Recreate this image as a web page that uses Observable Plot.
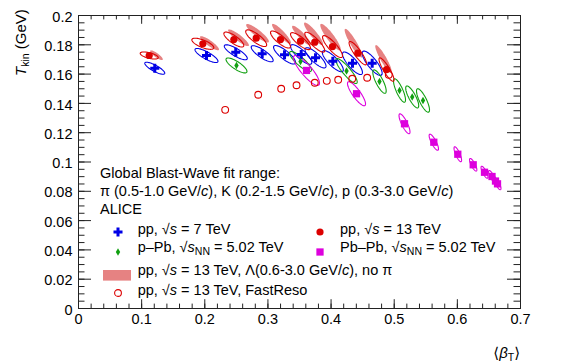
<!DOCTYPE html>
<html><head><meta charset="utf-8">
<script src="https://cdn.jsdelivr.net/npm/d3@7"></script>
<script src="https://cdn.jsdelivr.net/npm/@observablehq/plot@0.6"></script>
<style>
body{margin:0;background:#fff;}
#wrap{position:relative;width:581px;height:364px;font-family:"Liberation Sans",Arial,Helvetica,sans-serif;color:#000;overflow:hidden;}
#wrap svg.plot{position:absolute;left:0;top:0;}
.t{position:absolute;white-space:nowrap;font-size:14.5px;line-height:1;}
.t sub{font-size:10.5px;vertical-align:-3px;line-height:0;}
.sym{position:absolute;}
</style></head><body><div id="wrap"></div>
<script>
// ---- data ----
const xTicks = [0, 0.1, 0.2, 0.3, 0.4, 0.5, 0.6, 0.7];
const xTickLabels = ["0", "0.1", "0.2", "0.3", "0.4", "0.5", "0.6", "0.7"];
const yTicks = [0, 0.02, 0.04, 0.06, 0.08, 0.1, 0.12, 0.14, 0.16, 0.18, 0.2];
const yTickLabels = ["0", "0.02", "0.04", "0.06", "0.08", "0.1", "0.12", "0.14", "0.16", "0.18", "0.2"];

// pp, sqrt(s) = 7 TeV
const pp7_beta = [0.1208, 0.2027, 0.2491, 0.2909, 0.3263, 0.3527, 0.3754, 0.4028, 0.4339, 0.4651];
const pp7_T    = [0.1640, 0.1727, 0.1749, 0.1739, 0.1732, 0.1734, 0.1711, 0.1688, 0.1674, 0.1674];
const pp7_sb   = [0.0158, 0.0182, 0.0182, 0.0174, 0.0174, 0.0168, 0.0166, 0.0166, 0.0158, 0.0158];
const pp7_sT   = [0.0041, 0.0048, 0.0051, 0.0055, 0.0063, 0.0067, 0.0069, 0.0072, 0.0077, 0.0083];
const pp7_rho  = [-0.82, -0.82, -0.82, -0.82, -0.82, -0.82, -0.82, -0.82, -0.82, -0.82];

// pp, sqrt(s) = 13 TeV
const pp13_beta = [0.1120, 0.1969, 0.2460, 0.2814, 0.3199, 0.3516, 0.3742, 0.4023, 0.4423, 0.4878];
const pp13_T    = [0.1727, 0.1807, 0.1836, 0.1845, 0.1836, 0.1825, 0.1818, 0.1788, 0.1743, 0.1631];
const pp13_sb   = [0.0143, 0.0174, 0.0158, 0.0166, 0.0158, 0.0158, 0.0158, 0.0158, 0.0138, 0.0119];
const pp13_sT   = [0.0024, 0.0038, 0.0051, 0.0057, 0.0058, 0.0058, 0.0068, 0.0075, 0.0080, 0.0080];
const pp13_rho  = [-0.6, -0.7, -0.8, -0.8, -0.82, -0.82, -0.85, -0.85, -0.88, -0.88];

// p-Pb, sqrt(sNN) = 5.02 TeV
const pPb_beta = [0.2502, 0.3516, 0.4245, 0.4767, 0.5084, 0.5285, 0.5456];
const pPb_T    = [0.1659, 0.1686, 0.1621, 0.1549, 0.1488, 0.1444, 0.1420];
const pPb_sb   = [0.0166, 0.0174, 0.0169, 0.0106, 0.0095, 0.0103, 0.0103];
const pPb_sT   = [0.0051, 0.0068, 0.0085, 0.0080, 0.0080, 0.0075, 0.0080];
const pPb_rho  = [-0.8, -0.85, -0.88, -0.8, -0.8, -0.8, -0.8];

// Pb-Pb, sqrt(sNN) = 5.02 TeV
const PbPb_beta = [0.3611, 0.4403, 0.5163, 0.5627, 0.6007, 0.6251, 0.6430, 0.6549, 0.6604, 0.6636];
const PbPb_T    = [0.1625, 0.1466, 0.1261, 0.1135, 0.1053, 0.0981, 0.0930, 0.0901, 0.0870, 0.0851];
const PbPb_sb   = [0.0206, 0.0143, 0.0087, 0.0074, 0.0060, 0.0058, 0.0055, 0.0055, 0.0055, 0.0055];
const PbPb_sT   = [0.0102, 0.0082, 0.0068, 0.0055, 0.0051, 0.0043, 0.0041, 0.0041, 0.0040, 0.0040];
const PbPb_rho  = [-0.85, -0.85, -0.82, -0.82, -0.8, -0.8, -0.8, -0.8, -0.8, -0.8];

// pp, sqrt(s) = 13 TeV, Lambda (0.6-3.0 GeV/c), no pi
const lam_beta = [0.1235, 0.2075, 0.2534, 0.2835, 0.3215, 0.3532, 0.3722, 0.3991, 0.4355, 0.4830];
const lam_T    = [0.1729, 0.1811, 0.1848, 0.1879, 0.1875, 0.1863, 0.1875, 0.1852, 0.1811, 0.1704];
const lam_sb   = [0.0100, 0.0150, 0.0165, 0.0180, 0.0150, 0.0150, 0.0150, 0.0162, 0.0140, 0.0130];
const lam_sT   = [0.0033, 0.0048, 0.0057, 0.0063, 0.0068, 0.0067, 0.0077, 0.0091, 0.0098, 0.0094];
const lam_rho  = [-0.85, -0.88, -0.89, -0.89, -0.9, -0.9, -0.9, -0.9, -0.91, -0.91];

// pp, sqrt(s) = 13 TeV, FastReso
const fr_beta = [0.2323, 0.2846, 0.3210, 0.3453, 0.3742, 0.3932, 0.4113, 0.4335, 0.4572, 0.4914];
const fr_T    = [0.1356, 0.1459, 0.1500, 0.1524, 0.1541, 0.1554, 0.1561, 0.1568, 0.1575, 0.1595];

// ---- colours ----
const cBlue = "#0000e6", cRed = "#dc0000", cGreen = "#10a010", cMag = "#dd00dd", cPink = "#e68282";

// ---- helpers ----
function ellipses(name, bx, by, sb, sT, rho) {
  const out = [];
  bx.forEach((cx, i) => {
    const n = 72, r = rho[i], c = Math.sqrt(1 - r * r);
    for (let k = 0; k < n; k++) {
      const t = 2 * Math.PI * k / n;
      out.push({id: name + i, x: cx + sb[i] * Math.cos(t), y: by[i] + sT[i] * (r * Math.cos(t) + c * Math.sin(t))});
    }
  });
  return out;
}
const pts = (bx, by) => bx.map((x, i) => ({x, y: by[i]}));

const mL = 78, mR = 61, mT = 15, mB = 56, W = 581, H = 364;
const fW = W - mL - mR, fH = H - mT - mB;
const xMinor = d3.range(0, 0.7001, 0.02).map(v => +v.toFixed(3));
const yMinor = d3.range(0, 0.2001, 0.005).map(v => +v.toFixed(4));
const axc = "#222";

const plot = Plot.plot({
  width: W, height: H,
  marginLeft: mL, marginRight: mR, marginTop: mT, marginBottom: mB,
  x: {domain: [0, 0.7]},
  y: {domain: [0, 0.2]},
  style: {fontFamily: "'Liberation Sans', Arial, Helvetica, sans-serif", fontSize: "14.5px", background: "white", color: "#000"},
  marks: [
    Plot.line(ellipses("lam", lam_beta, lam_T, lam_sb, lam_sT, lam_rho), {x: "x", y: "y", z: "id", curve: "linear-closed", fill: cPink, stroke: "none"}),
    Plot.line(ellipses("pp7", pp7_beta, pp7_T, pp7_sb, pp7_sT, pp7_rho), {x: "x", y: "y", z: "id", curve: "linear-closed", stroke: cBlue, strokeWidth: 1.1}),
    Plot.line(ellipses("pPb", pPb_beta, pPb_T, pPb_sb, pPb_sT, pPb_rho), {x: "x", y: "y", z: "id", curve: "linear-closed", stroke: cGreen, strokeWidth: 1.1}),
    Plot.line(ellipses("PbPb", PbPb_beta, PbPb_T, PbPb_sb, PbPb_sT, PbPb_rho), {x: "x", y: "y", z: "id", curve: "linear-closed", stroke: cMag, strokeWidth: 1.1}),
    Plot.line(ellipses("pp13", pp13_beta, pp13_T, pp13_sb, pp13_sT, pp13_rho), {x: "x", y: "y", z: "id", curve: "linear-closed", stroke: cRed, strokeWidth: 1.1}),
    Plot.dot(pts(pp7_beta, pp7_T), {x: "x", y: "y", symbol: "cross", r: 3.8, fill: cBlue}),
    Plot.dot(pts(pPb_beta, pPb_T), {x: "x", y: "y", symbol: "diamond", r: 2.3, fill: cGreen}),
    Plot.dot(pts(PbPb_beta, PbPb_T), {x: "x", y: "y", symbol: "square", r: 4.1, fill: cMag}),
    Plot.dot(pts(pp13_beta, pp13_T), {x: "x", y: "y", symbol: "circle", r: 3.6, fill: cRed}),
    Plot.dot(pts(fr_beta, fr_T), {x: "x", y: "y", symbol: "circle", r: 3.4, fill: "none", stroke: cRed, strokeWidth: 1.1}),
    // frame and inward ticks (ROOT style)
    Plot.frame({stroke: axc, strokeWidth: 1}),
    Plot.ruleX(xTicks, {x: d => d, insetTop: fH - 8.8, stroke: axc}),
    Plot.ruleX(xTicks, {x: d => d, insetBottom: fH - 8.8, stroke: axc}),
    Plot.ruleX(xMinor, {x: d => d, insetTop: fH - 4.4, stroke: axc}),
    Plot.ruleX(xMinor, {x: d => d, insetBottom: fH - 4.4, stroke: axc}),
    Plot.ruleY(yTicks, {y: d => d, insetRight: fW - 13, stroke: axc}),
    Plot.ruleY(yTicks, {y: d => d, insetLeft: fW - 13, stroke: axc}),
    Plot.ruleY(yMinor, {y: d => d, insetRight: fW - 6.5, stroke: axc}),
    Plot.ruleY(yMinor, {y: d => d, insetLeft: fW - 6.5, stroke: axc}),
    Plot.axisX({ticks: xTicks, tickFormat: d => xTickLabels[xTicks.indexOf(d)], tickSize: 0, tickPadding: 5, label: null}),
    Plot.axisY({ticks: yTicks, tickFormat: d => yTickLabels[yTicks.indexOf(d)], tickSize: 0, tickPadding: 6, dy: 1.5, label: null})
  ]
});
plot.classList.add("plot");
const wrap = document.getElementById("wrap");
wrap.appendChild(plot);

// ---- titles and legend (text) ----
function addText(html, left, top, extra) {
  const d = document.createElement("div");
  d.className = "t";
  d.innerHTML = html;
  d.style.left = left + "px";
  d.style.top = top + "px";
  if (extra) Object.assign(d.style, extra);
  wrap.appendChild(d);
  return d;
}
function addSym(svg, left, top, w, h) {
  const d = document.createElement("div");
  d.className = "sym";
  d.style.left = left + "px"; d.style.top = top + "px";
  d.innerHTML = `<svg width="${w}" height="${h}" viewBox="0 0 ${w} ${h}">${svg}</svg>`;
  wrap.appendChild(d);
}

// y title (rotated)
addText('<i>T</i><sub style="font-size:10.5px;vertical-align:-3px">kin</sub> (GeV)', 13, 76, {transformOrigin: "0 0", transform: "rotate(-90deg)", fontSize: "15px"});
// x title
const xt = addText('<span style="font-family:\'DejaVu Sans\'">⟨</span><i>β</i><sub>T</sub><span style="font-family:\'DejaVu Sans\'">⟩</span>', 0, 345, {fontSize: "15px"});
xt.style.left = (520 - xt.getBoundingClientRect().width) + "px";

addText("Global Blast-Wave fit range:", 100, 166);
addText("π (0.5-1.0 GeV/<i>c</i>), K (0.2-1.5 GeV/<i>c</i>), p (0.3-3.0 GeV/<i>c</i>)", 100, 184.4);
addText("ALICE", 100, 202);
addText("pp, √<i>s</i> = 7 TeV", 137.7, 221.7);
addText("pp, √<i>s</i> = 13 TeV", 340, 221.7);
addText("p–Pb, √<i>s</i><sub>NN</sub> = 5.02 TeV", 137.7, 239.6);
addText("Pb–Pb, √<i>s</i><sub>NN</sub> = 5.02 TeV", 340, 239.6);
addText("pp, √<i>s</i> = 13 TeV, Λ(0.6-3.0 GeV/<i>c</i>), no π", 137.7, 263.4);
addText("pp, √<i>s</i> = 13 TeV, FastReso", 137.7, 282.7);

// legend symbols
addSym(`<path d="${d3.symbol(d3.symbolCross, Math.PI * 3.8 * 3.8)()}" transform="translate(6,6)" fill="${cBlue}"/>`, 112, 224, 12, 12);
addSym(`<circle cx="6" cy="6" r="3.6" fill="${cRed}"/>`, 314, 224, 12, 12);
addSym(`<path d="${d3.symbol(d3.symbolDiamond, Math.PI * 2.3 * 2.3)()}" transform="translate(6,6)" fill="${cGreen}"/>`, 112, 244, 12, 12);
addSym(`<path d="${d3.symbol(d3.symbolSquare, Math.PI * 4.1 * 4.1)()}" transform="translate(6,6)" fill="${cMag}"/>`, 314, 244, 12, 12);
addSym(`<rect x="0" y="0" width="28" height="10.6" fill="${cPink}"/>`, 102.7, 266.7, 28, 11);
addSym(`<circle cx="6" cy="6" r="3.4" fill="none" stroke="${cRed}" stroke-width="1.1"/>`, 112, 285, 12, 12);
</script>
</body></html>
